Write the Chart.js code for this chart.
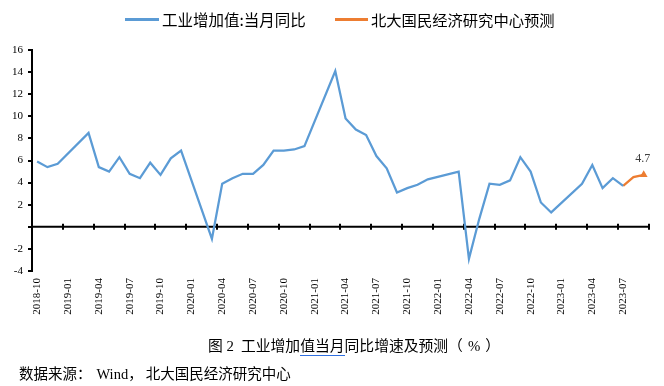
<!DOCTYPE html>
<html>
<head>
<meta charset="utf-8">
<script src="https://cdn.jsdelivr.net/npm/chart.js@4.4.0/dist/chart.umd.min.js"></script>
<style>
  body { margin: 0; background: #fff; }
  #wrap { position: relative; width: 664px; height: 386px; }
  #chart { position: absolute; left: 0; top: 0; }
  .txt { position: absolute; white-space: nowrap; color: #000;
         font-family: "Noto Sans CJK SC", sans-serif; }
  .sw { position: absolute; height: 3px; }
  .num { font-family: "Liberation Serif", serif; }
</style>
</head>
<body>
<div id="wrap">
  <canvas id="chart" width="664" height="386"></canvas>
  <div class="sw" style="left:125px;top:18px;width:34px;background:#5B9BD5;"></div>
  <div class="txt" style="left:162px;top:8px;font-size:15.5px;line-height:22px;">工业增加值:当月同比</div>
  <div class="sw" style="left:335px;top:18px;width:33px;background:#ED7D31;"></div>
  <div class="txt" style="left:371px;top:8px;font-size:15.3px;line-height:22px;">北大国民经济研究中心预测</div>
  <div class="txt" style="left:208px;top:334px;font-size:14.8px;line-height:22px;">图<span class="num"> 2 </span>&nbsp;工业增加<span style="border-bottom:1.5px solid #2F6FE0;">值当月</span>同比增速及预测（<span class="num" style="margin:0 5px;">%</span>）</div>
  <div class="txt" style="left:19px;top:362px;font-size:14.5px;line-height:22px;">数据来源：<span class="num" style="margin-left:5px;">Wind</span>，<span style="margin-left:3px;">北大国民经济研究中心</span></div>
</div>
<script>
// months 2018-10 .. 2023-09
var months = [];
var y0 = 2018, m0 = 10;
for (var i = 0; i < 60; i++) {
    var mm = (m0 - 1 + i) % 12 + 1;
    var yy = y0 + Math.floor((m0 - 1 + i) / 12);
    months.push(yy + '-' + (mm < 10 ? '0' + mm : mm));
}

// 工业增加值:当月同比 (Jan/Feb empty)
var actual = [
    5.9, 5.4, 5.7,
    null, null, 8.5, 5.4, 5.0, 6.3, 4.8, 4.4, 5.8, 4.7, 6.2, 6.9,
    null, null, -1.1, 3.9, 4.4, 4.8, 4.8, 5.6, 6.9, 6.9, 7.0, 7.3,
    null, null, 14.1, 9.8, 8.8, 8.3, 6.4, 5.3, 3.1, 3.5, 3.8, 4.3,
    null, null, 5.0, -2.9, 0.7, 3.9, 3.8, 4.2, 6.3, 5.0, 2.2, 1.3,
    null, null, 3.9, 5.6, 3.5, 4.4, 3.7, null, null
];

// 北大国民经济研究中心预测
var forecast = [];
for (var j = 0; j < 57; j++) forecast.push(null);
forecast = forecast.concat([3.7, 4.5, 4.7]);

var yTicks = [-4, -2, 0, 2, 4, 6, 8, 10, 12, 14, 16];

var zeroAxis = {
    id: 'zeroAxis',
    beforeDatasetsDraw: function (chart) {
        var ctx = chart.ctx, xs = chart.scales.x, ys = chart.scales.y;
        var yz = ys.getPixelForValue(0);
        var half = (xs.getPixelForValue(1) - xs.getPixelForValue(0)) / 2;
        ctx.save();
        ctx.strokeStyle = '#000';
        ctx.lineWidth = 2;
        ctx.beginPath();
        ctx.moveTo(chart.chartArea.left, yz);
        ctx.lineTo(chart.chartArea.right, yz);
        ctx.stroke();
        for (var k = 0; k <= months.length; k += 3) {
            var px = Math.round(xs.getPixelForValue(k) - half);
            ctx.beginPath();
            ctx.moveTo(px, yz - 3);
            ctx.lineTo(px, yz + 3);
            ctx.stroke();
        }
        ctx.restore();
    },
    afterDatasetsDraw: function (chart) {
        var meta = chart.getDatasetMeta(1);
        var pt = meta.data[meta.data.length - 1];
        var ctx = chart.ctx;
        ctx.save();
        ctx.fillStyle = '#404040';
        ctx.font = '12px "Liberation Serif", serif';
        ctx.textAlign = 'center';
        ctx.textBaseline = 'middle';
        ctx.fillText(String(forecast[forecast.length - 1]), pt.x - 1, pt.y - 16);
        ctx.restore();
    }
};

new Chart(document.getElementById('chart'), {
    type: 'line',
    data: {
        labels: months,
        datasets: [{
            label: '工业增加值:当月同比',
            data: actual,
            borderColor: '#5B9BD5',
            borderWidth: 2.25,
            pointRadius: 0,
            spanGaps: true,
            tension: 0
        }, {
            label: '北大国民经济研究中心预测',
            data: forecast,
            borderColor: '#ED7D31',
            backgroundColor: '#ED7D31',
            borderWidth: 2.25,
            pointStyle: 'triangle',
            pointRadius: forecast.map(function (v, i) { return i === forecast.length - 1 ? 4.5 : 0; }),
            pointBorderWidth: 0,
            tension: 0
        }]
    },
    options: {
        responsive: false,
        animation: false,
        events: [],
        layout: { padding: { left: 0, right: 11, top: 50, bottom: 65 } },
        plugins: { legend: { display: false }, tooltip: { enabled: false } },
        scales: {
            x: {
                offset: true,
                grid: { display: false, drawTicks: false },
                border: { display: false },
                afterFit: function (s) { s.height = 50; },
                ticks: {
                    autoSkip: false,
                    minRotation: 90,
                    maxRotation: 90,
                    padding: 7,
                    color: '#000',
                    font: { family: '"Liberation Serif", serif', size: 11 },
                    callback: function (v, i) { return i % 3 === 0 ? months[i] : ''; }
                }
            },
            y: {
                min: -4,
                max: 16,
                afterFit: function (s) { s.width = 32; },
                afterBuildTicks: function (s) {
                    s.ticks = yTicks.map(function (v) { return { value: v }; });
                },
                grid: { drawOnChartArea: false, drawTicks: true, tickLength: 4, color: '#000', lineWidth: 2 },
                border: { display: true, color: '#000', width: 2 },
                ticks: {
                    padding: 5,
                    color: '#000',
                    font: { family: '"Liberation Serif", serif', size: 11 },
                    callback: function (v) { return v === 0 ? '' : v; }
                }
            }
        }
    },
    plugins: [zeroAxis]
});
</script>
</body>
</html>
